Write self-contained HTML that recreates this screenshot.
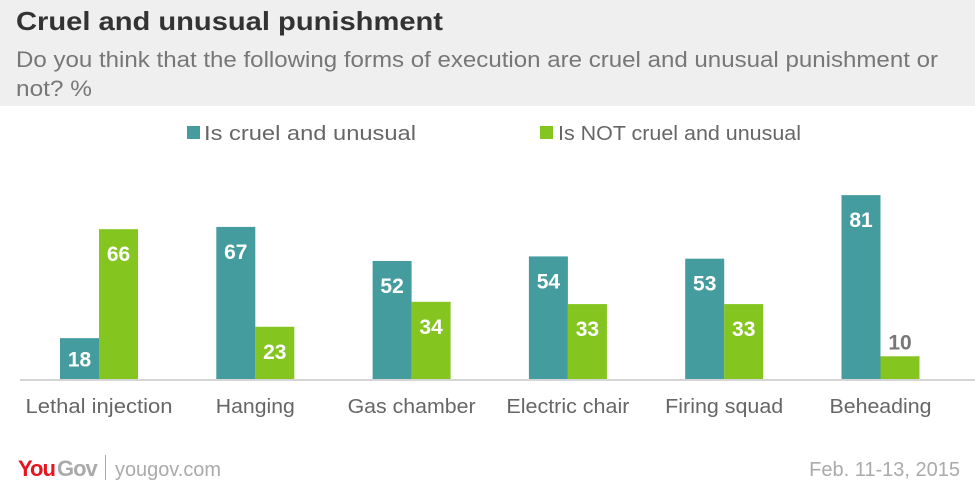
<!DOCTYPE html>
<html><head><meta charset="utf-8"><style>
body{margin:0;width:975px;height:491px;background:#fff;font-family:"Liberation Sans",sans-serif;overflow:hidden;position:relative}
.hdr{position:absolute;left:0;top:0;width:975px;height:106px;background:#efefef}
</style></head><body>
<div class="hdr"></div>
<svg width="975" height="491" style="position:absolute;left:0;top:0" font-family="Liberation Sans, sans-serif">
<text x="16" y="30" font-size="26" font-weight="bold" fill="#333" textLength="427" lengthAdjust="spacingAndGlyphs">Cruel and unusual punishment</text>
<text x="16" y="67" font-size="22" fill="#777" textLength="922" lengthAdjust="spacingAndGlyphs">Do you think that the following forms of execution are cruel and unusual punishment or</text>
<text x="16" y="96" font-size="22" fill="#777" textLength="76" lengthAdjust="spacingAndGlyphs">not?  %</text>
<rect x="187" y="126" width="13" height="13" fill="#459c9f"/>
<text x="204" y="140" font-size="20" fill="#666" textLength="212" lengthAdjust="spacingAndGlyphs">Is cruel and unusual</text>
<rect x="540" y="126" width="13" height="13" fill="#84c51f"/>
<text x="558" y="140" font-size="20" fill="#666" textLength="243" lengthAdjust="spacingAndGlyphs">Is NOT cruel and unusual</text>
<rect x="20" y="379" width="955" height="2" fill="#d5d5d5"/>
<g id="bars"></g>
<text x="18" y="476" font-size="22" font-weight="bold" fill="#e8141e" letter-spacing="-1">You</text>
<text x="57" y="476" font-size="22" font-weight="bold" fill="#aaa" letter-spacing="-1">Gov</text>
<rect x="105" y="455" width="1" height="25" fill="#aaa"/>
<text x="115" y="476" font-size="20" fill="#aaa" textLength="106" lengthAdjust="spacingAndGlyphs">yougov.com</text>
<text x="960" y="476" font-size="20" fill="#aaa" text-anchor="end">Feb. 11-13, 2015</text>
</svg>
<script>
var d=[["Lethal injection",18,66,147],["Hanging",67,23,79],["Gas chamber",52,34,128],["Electric chair",54,33,123],["Firing squad",53,33,118],["Beheading",81,10,102]];
var s="",B=379,k=2.27;
d.forEach(function(r,i){var c=99+i*156.3;
[[r[1],c-39,"#459c9f"],[r[2],c,"#84c51f"]].forEach(function(b){var h=b[0]*k,t=B-h,cx=b[1]+19.5;
s+='<rect x="'+b[1]+'" y="'+t+'" width="39" height="'+h+'" fill="'+b[2]+'"/>';
if(h<30) s+='<text x="'+cx+'" y="'+(t-7)+'" font-size="21" font-weight="bold" fill="#777" text-anchor="middle">'+b[0]+'</text>';
else{var y=Math.min(t+32,t+h/2+8);s+='<text x="'+cx+'" y="'+y+'" font-size="21" font-weight="bold" fill="#fff" text-anchor="middle">'+b[0]+'</text>';}});
s+='<text x="'+(c-r[3]/2)+'" y="413" font-size="20" fill="#666" textLength="'+r[3]+'" lengthAdjust="spacingAndGlyphs">'+r[0]+'</text>';});
document.getElementById("bars").innerHTML=s;
</script>
</body></html>
